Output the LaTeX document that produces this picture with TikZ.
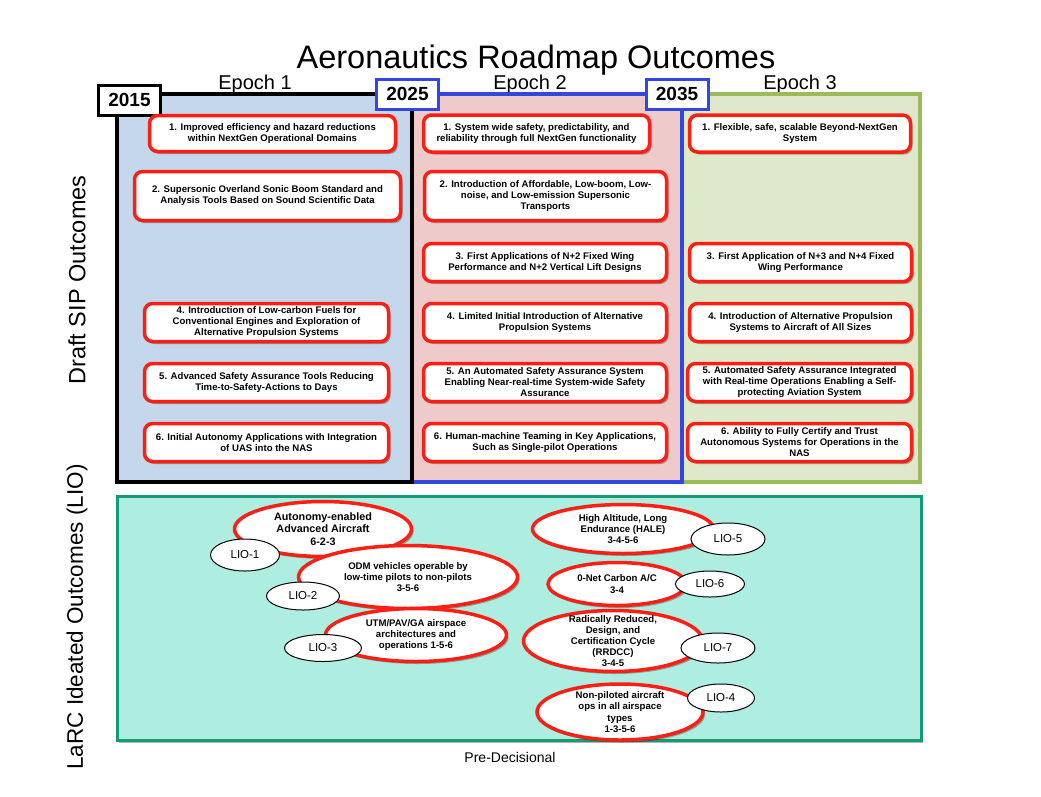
\documentclass[tikz,border=0pt]{standalone}
\usepackage{fontspec}
\setmainfont{Liberation Sans}
\usetikzlibrary{shapes.geometric,shadows}
\definecolor{sipred}{RGB}{255,30,20}
\definecolor{epblue}{RGB}{197,215,235}
\definecolor{eppink}{RGB}{238,202,202}
\definecolor{epgreen}{RGB}{222,232,203}
\definecolor{epgreenline}{RGB}{155,187,89}
\definecolor{epblueline}{RGB}{50,72,220}
\definecolor{liofill}{RGB}{174,238,224}
\definecolor{lioline}{RGB}{20,155,116}
\begin{document}
\begin{tikzpicture}[x=1pt,y=-1pt,
  shade/.style={drop shadow={shadow xshift=2pt,shadow yshift=-2.5pt,opacity=0.3,fill=black}},
  frame/.style={line width=4pt,shade},
  yearbox/.style={draw,line width=3pt,fill=white,font=\bfseries\fontsize{19}{21}\selectfont,minimum width=62pt,minimum height=30pt,inner sep=0pt},
  sipbox/.style={draw=sipred,line width=3.5pt,fill=white,rounded corners=8pt,align=center,font=\bfseries\fontsize{9.6}{11}\selectfont,inner sep=1pt,shade},
  ideabox/.style={ellipse,draw=sipred,line width=3.5pt,fill=white,align=center,font=\bfseries\fontsize{9.6}{11.2}\selectfont,inner sep=0pt,inner ysep=-6pt,shade},
  liotag/.style={ellipse,draw=black,line width=1pt,fill=white,font=\fontsize{11.5}{13}\selectfont,inner sep=0pt},
  epochlbl/.style={font=\fontsize{20}{22}\selectfont}
]
\useasboundingbox (0,0) rectangle (1041,796);
\fill[white] (0,0) rectangle (1041,796);

% title and side labels
\node[font=\fontsize{32.5}{36}\selectfont] (title) at (536,60) {Aeronautics Roadmap Outcomes};
\node[epochlbl] (ep1) at (255,84) {Epoch 1};
\node[epochlbl] (ep2) at (530,84) {Epoch 2};
\node[epochlbl] (ep3) at (800,84) {Epoch 3};
\node[rotate=90,font=\fontsize{23.5}{26}\selectfont] (sipl) at (77,280) {Draft SIP Outcomes};
\node[rotate=90,font=\fontsize{22.5}{26}\selectfont] (liol) at (77,617) {LaRC Ideated Outcomes (LIO)};
\node[font=\fontsize{14}{16}\selectfont] (pre) at (510,757) {Pre-Decisional};

% epoch frames
\filldraw[frame,draw=epgreenline,fill=epgreen] (681.5,94) rectangle (920,481.5);
\filldraw[frame,draw=epblueline,fill=eppink] (412,94) rectangle (681.5,481.5);
\filldraw[frame,draw=black,fill=epblue] (116.5,94) rectangle (412,481.5);

% year boxes
\node[yearbox,draw=black] (y2015) at (129.5,100) {2015};
\node[yearbox,draw=epblueline] (y2025) at (407.5,94) {2025};
\node[yearbox,draw=epblueline] (y2035) at (677,94) {2035};

% epoch 1 outcomes
\node[sipbox,minimum width=246pt,minimum height=36pt] (b11) at (272.5,133.5) {1. Improved efficiency and hazard reductions\\within NextGen Operational Domains};
\node[sipbox,minimum width=266pt,minimum height=49pt] (b12) at (267.5,196) {2. Supersonic Overland Sonic Boom Standard and\\Analysis Tools Based on Sound Scientific Data};
\node[sipbox,minimum width=244pt,minimum height=38pt] (b14) at (266.5,322.5) {4. Introduction of Low-carbon Fuels for\\Conventional Engines and Exploration of\\Alternative Propulsion Systems};
\node[sipbox,minimum width=244pt,minimum height=38pt] (b15) at (266.5,382.5) {5. Advanced Safety Assurance Tools Reducing\\Time-to-Safety-Actions to Days};
\node[sipbox,minimum width=244pt,minimum height=38pt] (b16) at (266.5,442.5) {6. Initial Autonomy Applications with Integration\\of UAS into the NAS};

% epoch 2 outcomes
\node[sipbox,minimum width=226pt,minimum height=37pt] (b21) at (536.5,133.5) {1. System wide safety, predictability, and\\reliability through full NextGen functionality};
\node[sipbox,minimum width=242pt,minimum height=49pt] (b22) at (545.5,196) {2. Introduction of Affordable, Low-boom, Low-\\noise, and Low-emission Supersonic\\Transports};
\node[sipbox,minimum width=243pt,minimum height=38pt] (b23) at (545,262.5) {3. First Applications of N+2 Fixed Wing\\Performance and N+2 Vertical Lift Designs};
\node[sipbox,minimum width=243pt,minimum height=38pt] (b24) at (545,322.5) {4. Limited Initial Introduction of Alternative\\Propulsion Systems};
\node[sipbox,minimum width=243pt,minimum height=38pt] (b25) at (545,382.5) {5. An Automated Safety Assurance System\\Enabling Near-real-time System-wide Safety\\Assurance};
\node[sipbox,minimum width=243pt,minimum height=38pt] (b26) at (545,442.5) {6. Human-machine Teaming in Key Applications,\\Such as Single-pilot Operations};

% epoch 3 outcomes
\node[sipbox,minimum width=221pt,minimum height=37pt] (b31) at (800,133.5) {1. Flexible, safe, scalable Beyond-NextGen\\System};
\node[sipbox,minimum width=222pt,minimum height=38pt] (b33) at (800.5,262.5) {3. First Application of N+3 and N+4 Fixed\\Wing Performance};
\node[sipbox,minimum width=222pt,minimum height=38pt] (b34) at (800.5,322.5) {4. Introduction of Alternative Propulsion\\Systems to Aircraft of All Sizes};
\node[sipbox,minimum width=224pt,minimum height=38pt] (b35) at (799.5,382.5) {5. Automated Safety Assurance Integrated\\with Real-time Operations Enabling a Self-\\protecting Aviation System};
\node[sipbox,minimum width=224pt,minimum height=38pt] (b36) at (799.5,442.5) {6. Ability to Fully Certify and Trust\\Autonomous Systems for Operations in the\\NAS};

% LIO panel
\filldraw[line width=3pt,draw=lioline,fill=liofill,shade] (117,496) rectangle (921,740);

% left cluster
\node[ideabox,minimum width=177pt,minimum height=55pt,font=\bfseries\fontsize{10.8}{12.6}\selectfont] (e1) at (323,529) {Autonomy-enabled\\Advanced Aircraft\\6-2-3};
\node[liotag,minimum width=69pt,minimum height=32pt] (l1) at (245,555) {LIO-1};
\node[ideabox,minimum width=219pt,minimum height=63pt] (e2) at (408,577) {ODM vehicles operable by\\low-time pilots to non-pilots\\3-5-6};
\node[liotag,minimum width=73pt,minimum height=28pt] (l2) at (303,596) {LIO-2};
\node[ideabox,minimum width=181pt,minimum height=53pt] (e3) at (416,635) {UTM/PAV/GA airspace\\architectures and\\operations 1-5-6};
\node[liotag,minimum width=77pt,minimum height=27pt] (l3) at (323,648) {LIO-3};

% right cluster
\node[ideabox,minimum width=181pt,minimum height=49pt] (e5) at (623,529) {High Altitude, Long\\Endurance (HALE)\\3-4-5-6};
\node[liotag,minimum width=74pt,minimum height=32pt] (l5) at (728,539) {LIO-5};
\node[ideabox,minimum width=138pt,minimum height=43pt] (e6) at (617,584) {0-Net Carbon A/C\\3-4};
\node[liotag,minimum width=69pt,minimum height=26pt] (l6) at (710,584) {LIO-6};
\node[ideabox,inner ysep=-17pt,minimum width=179pt,minimum height=61pt] (e7) at (613,641) {Radically Reduced,\\Design, and\\Certification Cycle\\(RRDCC)\\3-4-5};
\node[liotag,minimum width=74pt,minimum height=30pt] (l7) at (718,648) {LIO-7};
\node[ideabox,inner ysep=-13pt,minimum width=166pt,minimum height=56pt] (e4) at (620,712) {Non-piloted aircraft\\ops in all airspace\\types\\1-3-5-6};
\node[liotag,minimum width=67pt,minimum height=28pt] (l4) at (721,698) {LIO-4};
\end{tikzpicture}
\end{document}
